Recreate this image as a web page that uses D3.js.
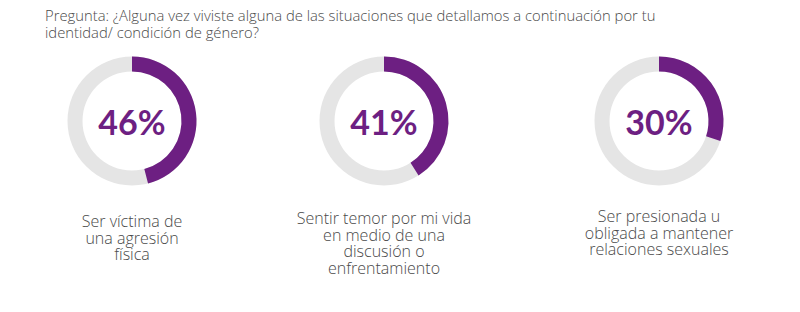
<!DOCTYPE html>
<html>
<head>
<meta charset="utf-8">
<script src="https://cdn.jsdelivr.net/npm/d3@7"></script>
<style>
  html, body { margin: 0; padding: 0; background: #ffffff; }
  svg { display: block; }
</style>
</head>
<body>
<svg id="chart" width="800" height="312"></svg>
<script>
// Survey question and answers
const titleLines = [
  "Pregunta: ¿Alguna vez viviste alguna de las situaciones que detallamos a continuación por tu",
  "identidad/ condición de género?"
];
const percentages = [46, 41, 30];
const labels = [
  ["Ser víctima de", "una agresión", "física"],
  ["Sentir temor por mi vida", "en medio de una", "discusión o", "enfrentamiento"],
  ["Ser presionada u", "obligada a mantener", "relaciones sexuales"]
];

const purple = "#6d1f82";
const grey = "#e5e5e5";
const textGrey = "#4a4a4a";
const fontFamily = "'Open Sans', Lato, sans-serif";

const svg = d3.select("#chart");

// Title
svg.append("g")
  .selectAll("text")
  .data(titleLines)
  .join("text")
  .attr("x", 45)
  .attr("y", (d, i) => 21 + i * 17)
  .attr("font-family", fontFamily)
  .attr("font-weight", 300)
  .attr("font-size", 14.8)
  .attr("fill", textGrey)
  .text(d => d);

// Donut layout
const centers = [132, 384, 659];
const cy = 121;
const outerR = 64.5;
const innerR = 49.5;
const labelTop = [106, 103, 101];

const angle = d3.scaleLinear().domain([0, 100]).range([0, 2 * Math.PI]);
const arc = d3.arc().innerRadius(innerR).outerRadius(outerR);

const groups = svg.append("g")
  .selectAll("g")
  .data(percentages)
  .join("g")
  .attr("transform", (d, i) => `translate(${centers[i]},${cy})`);

// Background ring
groups.append("path")
  .attr("d", arc({ startAngle: 0, endAngle: 2 * Math.PI }))
  .attr("fill", grey);

// Value arc, clockwise from 12 o'clock
groups.append("path")
  .attr("d", d => arc({ startAngle: 0, endAngle: angle(d) }))
  .attr("fill", purple);

// Centre value
groups.append("text")
  .attr("text-anchor", "middle")
  .attr("y", 14)
  .attr("font-family", "Lato, sans-serif")
  .attr("font-weight", 700)
  .attr("font-size", 34)
  .attr("fill", purple)
  .text(d => d + "%");

// Category labels under each donut
groups.each(function (d, i) {
  d3.select(this).append("g")
    .selectAll("text")
    .data(labels[i])
    .join("text")
    .attr("text-anchor", "middle")
    .attr("y", (t, j) => labelTop[i] + j * 16.7)
    .attr("font-family", fontFamily)
    .attr("font-weight", 300)
    .attr("font-size", 16)
    .attr("fill", textGrey)
    .text(t => t);
});
</script>
</body>
</html>
